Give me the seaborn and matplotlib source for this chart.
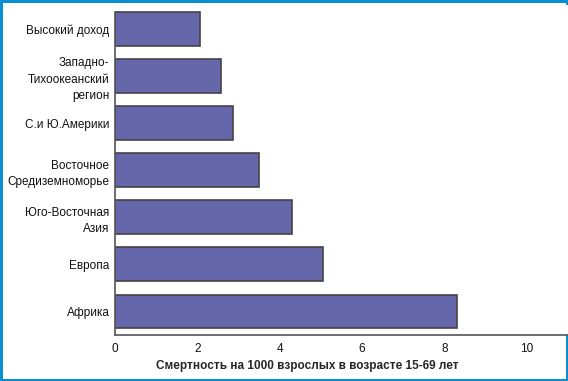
import pandas as pd
import matplotlib.pyplot as plt
import seaborn as sns

regions = ['Высокий доход', 'Западно-\nТихоокеанский\nрегион', 'С.и Ю.Америки',
           'Восточное\nСредиземноморье', 'Юго-Восточная\nАзия', 'Европа', 'Африка']
mortality = [2.07, 2.58, 2.87, 3.5, 4.3, 5.06, 8.3]
xticks = [0, 2, 4, 6, 8, 10]

df = pd.DataFrame({'Регион': regions, 'Смертность': mortality})

sns.set_style('white')
plt.rcParams['font.family'] = ['Liberation Sans', 'DejaVu Sans']

fig = plt.figure(figsize=(5.68, 3.81), dpi=100, edgecolor='#0a8fd0', linewidth=2.5)
ax = fig.add_axes([0.2025, 0.1207, 0.797, 0.865])

sns.barplot(data=df, x='Смертность', y='Регион', color='#6667ab', saturation=1,
            width=0.72, edgecolor='#444444', linewidth=1.2, ax=ax)

ax.set_xlim(0, 11)
ax.set_ylim(6.5, -0.5)
ax.set_xticks(xticks)
ax.set_xticklabels([str(t) for t in xticks], fontsize=8.5)
ax.tick_params(axis='y', labelsize=8.5, length=0, pad=4, labelcolor='#111111')
ax.tick_params(axis='x', length=0, pad=6, labelcolor='#111111')
for lbl in ax.get_yticklabels():
    lbl.set_linespacing(1.5)
ax.set_ylabel('')
ax.set_xlabel('Смертность на 1000 взрослых в возрасте 15-69 лет', fontsize=8.5,
              fontweight='bold')
ax.xaxis.set_label_coords(0.425, -0.075)

for s in ['top', 'right']:
    ax.spines[s].set_visible(False)
for s in ['left', 'bottom']:
    ax.spines[s].set_color('#555555')
    ax.spines[s].set_linewidth(1.2)
# left axis line starts at the top of the first bar, as in the original
ax.spines['left'].set_bounds(6.5, -0.36)

fig.savefig('out.png', dpi=100)
